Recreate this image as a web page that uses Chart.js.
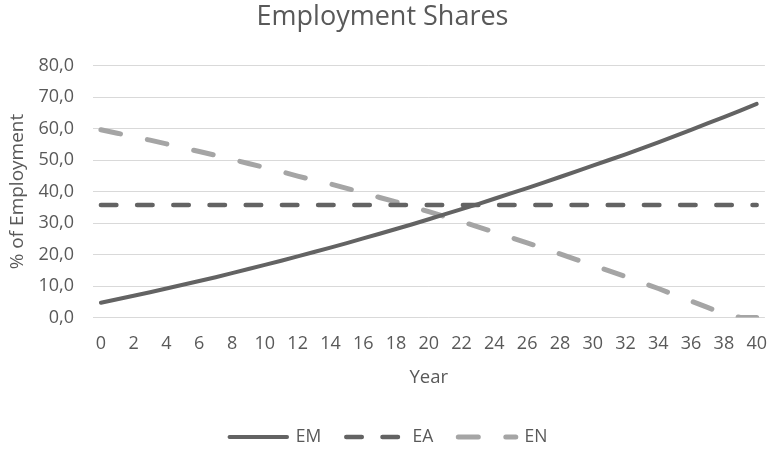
<!DOCTYPE html>
<html>
<head>
<meta charset="utf-8">
<script src="https://cdn.jsdelivr.net/npm/chart.js@4"></script>
<style>
  html, body { margin: 0; padding: 0; background: #ffffff; overflow: hidden; }
  #wrap { width: 767px; height: 450px; }
</style>
</head>
<body>
<div id="wrap"><canvas id="chart" width="767" height="450"></canvas></div>
<script>
// Years of the simulation
const years = [0,1,2,3,4,5,6,7,8,9,10,11,12,13,14,15,16,17,18,19,20,
               21,22,23,24,25,26,27,28,29,30,31,32,33,34,35,36,37,38,39,40];

// Employment shares (% of employment) by sector
const EM = [4.7,5.8,6.9,8.0,9.2,10.4,11.6,12.8,14.1,15.4,16.7,18.0,19.4,20.8,22.2,23.6,25.1,26.6,28.1,29.6,31.2,
            32.8,34.4,36.0,37.7,39.4,41.1,42.8,44.6,46.4,48.2,50.0,51.8,53.7,55.6,57.6,59.6,61.6,63.6,65.7,67.8];
const EA = [35.7,35.7,35.7,35.7,35.7,35.7,35.7,35.7,35.7,35.7,35.7,35.7,35.7,35.7,35.7,35.7,35.7,35.7,35.7,35.7,35.7,
            35.7,35.7,35.7,35.7,35.7,35.7,35.7,35.7,35.7,35.7,35.7,35.7,35.7,35.7,35.7,35.7,35.7,35.7,35.7,35.7];
const EN = [59.6,58.5,57.4,56.3,55.1,53.9,52.7,51.5,50.2,48.9,47.6,46.3,44.9,43.6,42.4,41.0,39.6,38.1,36.7,35.2,33.6,
            32.0,30.4,28.8,27.1,25.4,23.7,22.0,20.2,18.4,16.6,14.8,13.0,11.1,9.2,7.2,5.2,3.2,1.2,0,0];

// Axis ticks
const yTicks = [0,10,20,30,40,50,60,70,80];
const xLabelStep = 2;

const FONT = '"Open Sans", "Noto Sans", sans-serif';
const TEXT = '#595959';

// Legend entries drawn as short line samples carrying each series' dash pattern
function lineLegendLabels(chart) {
  const items = Chart.defaults.plugins.legend.labels.generateLabels(chart);
  return items.map(function (item) {
    const ds = chart.data.datasets[item.datasetIndex];
    item.pointStyle = 'line';
    item.lineDash = ds.borderDash || [];
    item.lineDashOffset = 0;
    item.lineCap = 'round';
    item.lineWidth = ds.borderWidth;
    item.strokeStyle = ds.borderColor;
    item.fillStyle = ds.borderColor;
    return item;
  });
}

// Nudge the legend row a little to the right of the canvas centre
const legendShift = {
  id: 'legendShift',
  afterLayout(chart) { if (chart.legend) chart.legend.left += 12; }
};

new Chart(document.getElementById('chart'), {
  type: 'line',
  data: {
    labels: years,
    datasets: [
      { label: 'EM', data: EM, borderColor: '#636363', backgroundColor: '#636363',
        borderWidth: 4, borderCapStyle: 'round', borderJoinStyle: 'round',
        pointRadius: 0, tension: 0 },
      { label: 'EA', data: EA, borderColor: '#636363', backgroundColor: '#636363',
        borderWidth: 4.5, borderCapStyle: 'round', borderDash: [15.5, 20.7],
        pointRadius: 0, tension: 0 },
      { label: 'EN', data: EN, borderColor: '#a5a5a5', backgroundColor: '#a5a5a5',
        borderWidth: 5, borderCapStyle: 'round', borderDash: [20, 27.5],
        pointRadius: 0, tension: 0 }
    ]
  },
  plugins: [legendShift],
  options: {
    responsive: false,
    animation: false,
    devicePixelRatio: 1,
    layout: { padding: { left: 0, right: 2, top: 0, bottom: -5.75 } },
    plugins: {
      title: {
        display: true, text: 'Employment Shares', color: TEXT,
        font: { family: FONT, size: 27, weight: 'normal', lineHeight: 1.2 },
        padding: { top: 0.96, bottom: 32.14 }
      },
      legend: {
        position: 'bottom',
        labels: {
          usePointStyle: true, pointStyle: 'line', pointStyleWidth: 57.5,
          boxWidth: 54, boxHeight: 8, padding: 25,
          color: TEXT, font: { family: FONT, size: 17.5 },
          generateLabels: lineLegendLabels
        }
      },
      tooltip: { enabled: false }
    },
    scales: {
      x: {
        offset: true,
        grid: { display: true, drawOnChartArea: false, drawTicks: true,
                tickLength: 15.8, color: 'rgba(0,0,0,0)', tickColor: 'rgba(0,0,0,0)' },
        border: { display: false },
        ticks: {
          color: TEXT, font: { family: FONT, size: 18, lineHeight: 1.2 }, padding: 0,
          autoSkip: false, maxRotation: 0,
          callback: function (v, i) { return years[i] % xLabelStep === 0 ? String(years[i]) : ''; }
        },
        title: { display: true, text: 'Year', color: TEXT,
                 font: { family: FONT, size: 18.5, lineHeight: 1.2 }, padding: { top: 0, bottom: 14.6 } },
        afterFit: function (s) { s.height = 85.75; }
      },
      y: {
        min: 0, max: 80,
        afterBuildTicks: function (s) { s.ticks = yTicks.map(v => ({ value: v })); },
        grid: { color: '#d9d9d9', lineWidth: 1, drawTicks: false },
        border: { display: false },
        ticks: {
          color: TEXT, font: { family: FONT, size: 18 }, padding: 18.7,
          callback: v => v.toFixed(1).replace('.', ',')
        },
        title: { display: true, text: '% of Employment', color: TEXT,
                 font: { family: FONT, size: 19, lineHeight: 1.2 }, padding: { top: 6.6, bottom: 0 } },
        afterFit: function (s) { s.width = 92.7; }
      }
    }
  }
});
</script>
</body>
</html>
